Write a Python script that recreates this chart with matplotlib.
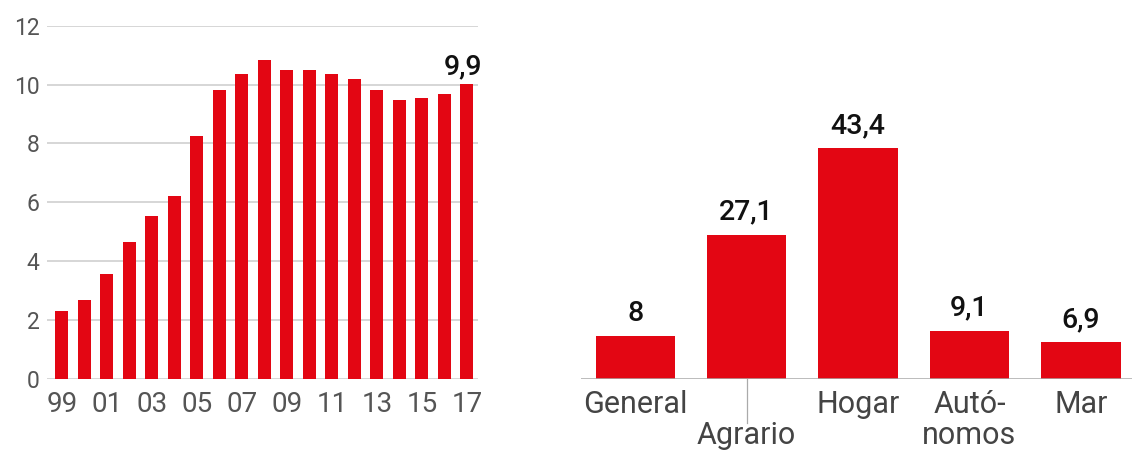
import numpy as np
import matplotlib
matplotlib.use('Agg')
import matplotlib.pyplot as plt
import matplotlib.transforms as mtransforms

plt.rcParams['font.family'] = ['Roboto', 'DejaVu Sans']

# left panel: yearly series
years = ['99', '00', '01', '02', '03', '04', '05', '06', '07', '08',
         '09', '10', '11', '12', '13', '14', '15', '16', '17']
year_vals = [2.31, 2.69, 3.57, 4.67, 5.55, 6.2, 8.27, 9.83, 10.36, 10.85,
             10.51, 10.51, 10.36, 10.2, 9.83, 9.48, 9.53, 9.67, 10.02]
last_label = '9,9'
yticks_left = [0, 2, 4, 6, 8, 10, 12]

# right panel: by regime
regimes = ['General', '\nAgrario', 'Hogar', 'Autó-\nnomos', 'Mar']
regime_vals = [8, 27.1, 43.4, 9.1, 6.9]
regime_labels = ['8', '27,1', '43,4', '9,1', '6,9']

red = '#e30613'
grid_c = '#cccccc'
tick_c = '#555555'

W, H = 1132, 455
fig = plt.figure(figsize=(W / 100, H / 100), dpi=100)

# ---- left chart ----
ax1 = fig.add_axes([46.7 / W, 1 - 379 / H, (478 - 46.7) / W, (379 - 25.7) / H])
x = np.arange(len(years))
ax1.bar(x, year_vals, width=0.58, color=red, zorder=3)
ax1.set_xlim(-0.67, 18.49)
ax1.set_ylim(0, 12)
ax1.set_yticks(yticks_left)
ax1.set_yticklabels([str(t) for t in yticks_left])
for t in yticks_left:
    ax1.axhline(t, color=grid_c, lw=1.1, zorder=1)
ax1.set_xticks(x[::2])
ax1.set_xticklabels(years[::2])
for s in ax1.spines.values():
    s.set_visible(False)
ax1.tick_params(axis='y', length=0, pad=5, labelsize=16.5, labelcolor=tick_c)
ax1.tick_params(axis='x', length=0, pad=9, labelsize=20, labelcolor=tick_c)
ax1.annotate(last_label, (x[-1], year_vals[-1]), xytext=(-3, 7),
             textcoords='offset points', ha='center', va='baseline',
             fontsize=20.5, fontweight='medium', color='#111111',
             annotation_clip=False)

# ---- right chart ----
ax2 = fig.add_axes([580.7 / W, 1 - 379 / H, (W - 580.7) / W, (379 - 25.7) / H])
xr = np.arange(len(regimes))
ax2.bar(xr, regime_vals, width=0.714, color=red, zorder=3)
ax2.set_xlim(-0.49, 4.46)
ax2.set_ylim(0, 66.5)
ax2.axhline(0, color='#aaaaaa', lw=1.1, zorder=4)
for s in ax2.spines.values():
    s.set_visible(False)
ax2.set_yticks([])
ax2.set_xticks(xr)
ax2.set_xticklabels(regimes, linespacing=1.1)
ax2.tick_params(axis='x', length=0, pad=8, labelsize=22, labelcolor='#444444')
for xi, v, lab in zip(xr, regime_vals, regime_labels):
    ax2.annotate(lab, (xi, v), xytext=(0, 11), textcoords='offset points',
                 ha='center', va='baseline', fontsize=20.5,
                 fontweight='medium', color='#111111')
# leader line for the lowered "Agrario" label
trans = mtransforms.blended_transform_factory(ax2.transData, ax2.transAxes)
ax2.plot([1, 1], [0, -0.125], color='#aaaaaa', lw=0.9, transform=trans,
         clip_on=False)

fig.savefig('out.png', dpi=100)
